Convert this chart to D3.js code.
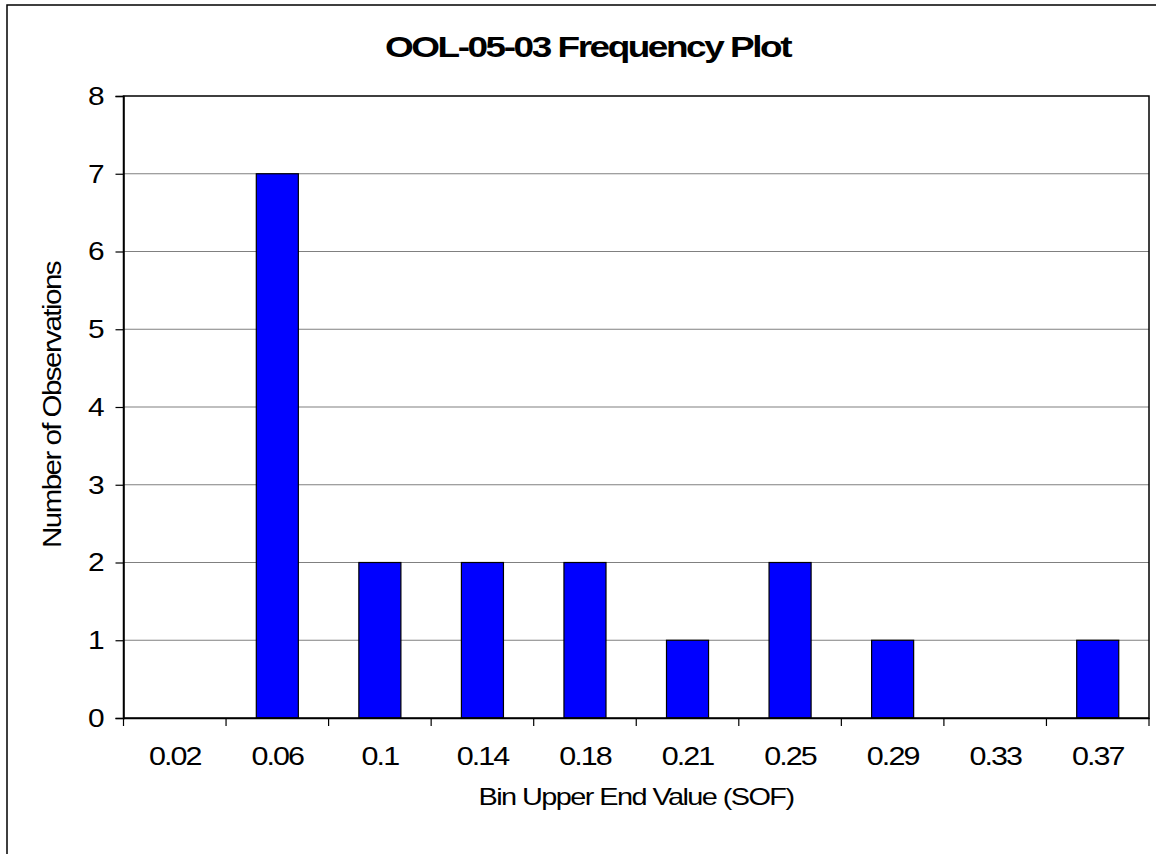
<!DOCTYPE html>
<html><head><meta charset="utf-8">
<script src="https://cdn.jsdelivr.net/npm/d3@7"></script>
<style>body{margin:0;background:#fff}svg{display:block}text{font-family:"Liberation Sans",Arial,sans-serif;fill:#000}</style>
</head><body>
<svg id="c" width="1156" height="854"></svg>
<script>
const categories = ["0.02","0.06","0.1","0.14","0.18","0.21","0.25","0.29","0.33","0.37"];
const counts = [0,7,2,2,2,1,2,1,0,1];
const yTicks = [0,1,2,3,4,5,6,7,8];
const title = "OOL-05-03 Frequency Plot";
const xTitle = "Bin Upper End Value (SOF)";
const yTitle = "Number of Observations";

const svg = d3.select("#c");
const m = {left:123.5, right:1149, top:96, bottom:718};

svg.append("rect").attr("x",7).attr("y",5).attr("width",1170).attr("height",880)
  .attr("fill","#fff").attr("stroke","#000").attr("stroke-width",1.5);

const x = d3.scaleBand().domain(categories).range([m.left,m.right]).paddingInner(0).paddingOuter(0);
const xb = d3.scaleBand().domain(categories).range([m.left,m.right]).paddingInner(0.59).paddingOuter(0.295);
const y = d3.scaleLinear().domain([0,8]).range([m.bottom,m.top]);

// gridlines
svg.append("g").selectAll("line").data(yTicks.filter(d=>d>0 && d<8)).join("line")
  .attr("x1",m.left).attr("x2",m.right).attr("y1",d=>y(d)).attr("y2",d=>y(d))
  .attr("stroke","#808080").attr("stroke-width",1.2);

// bars
svg.append("g").selectAll("rect").data(categories.map((c,i)=>({c,v:counts[i]})).filter(d=>d.v>0)).join("rect")
  .attr("x",d=>xb(d.c)).attr("width",xb.bandwidth())
  .attr("y",d=>y(d.v)).attr("height",d=>y(0)-y(d.v))
  .attr("fill","#0000ff").attr("stroke","#000").attr("stroke-width",1.2);

// plot border
svg.append("rect").attr("x",m.left).attr("y",m.top).attr("width",m.right-m.left).attr("height",m.bottom-m.top)
  .attr("fill","none").attr("stroke","#000").attr("stroke-width",1.5);

// y axis
const ya = svg.append("g").attr("transform",`translate(${m.left},0)`)
  .call(d3.axisLeft(y).tickValues(yTicks).tickSize(8).tickPadding(0).tickFormat(d3.format("d")));
ya.select(".domain").attr("stroke","#000").attr("stroke-width",1.5);
ya.selectAll(".tick line").attr("stroke","#000").attr("stroke-width",1.2);
ya.selectAll("text").style("font-size","26px").attr("fill","#000")
  .attr("x",0).attr("transform","translate(-19,0) scale(1.15,1)");

// x axis: ticks at category boundaries
const xa = svg.append("g").attr("transform",`translate(0,${m.bottom})`)
  .call(d3.axisBottom(x).tickSize(0).tickPadding(0));
xa.select(".domain").attr("stroke","#000").attr("stroke-width",1.5);
xa.selectAll("text").style("font-size","25px").attr("fill","#000").attr("letter-spacing","-1.6px")
  .attr("dy",null).attr("y",47).attr("transform","scale(1.22,1)");
svg.append("g").selectAll("line").data(categories.concat(["__end"])).join("line")
  .attr("x1",(d,i)=>m.left+i*x.step()).attr("x2",(d,i)=>m.left+i*x.step())
  .attr("y1",m.bottom).attr("y2",m.bottom+8).attr("stroke","#000").attr("stroke-width",1.2);

// titles
svg.append("text").attr("x",587.5).attr("y",57).attr("text-anchor","middle")
  .style("font-size","30px").style("font-weight","bold").attr("letter-spacing","-2px")
  .attr("textLength",405).attr("lengthAdjust","spacingAndGlyphs").text(title);
svg.append("text").attr("x",636).attr("y",805).attr("text-anchor","middle")
  .style("font-size","24px").attr("letter-spacing","-1.3px")
  .attr("textLength",315).attr("lengthAdjust","spacingAndGlyphs").text(xTitle);
svg.append("text").attr("transform","translate(61,405) rotate(-90)").attr("text-anchor","middle")
  .style("font-size","25px").attr("letter-spacing","-1.3px")
  .attr("textLength",286).attr("lengthAdjust","spacingAndGlyphs").text(yTitle);
</script>
</body></html>
